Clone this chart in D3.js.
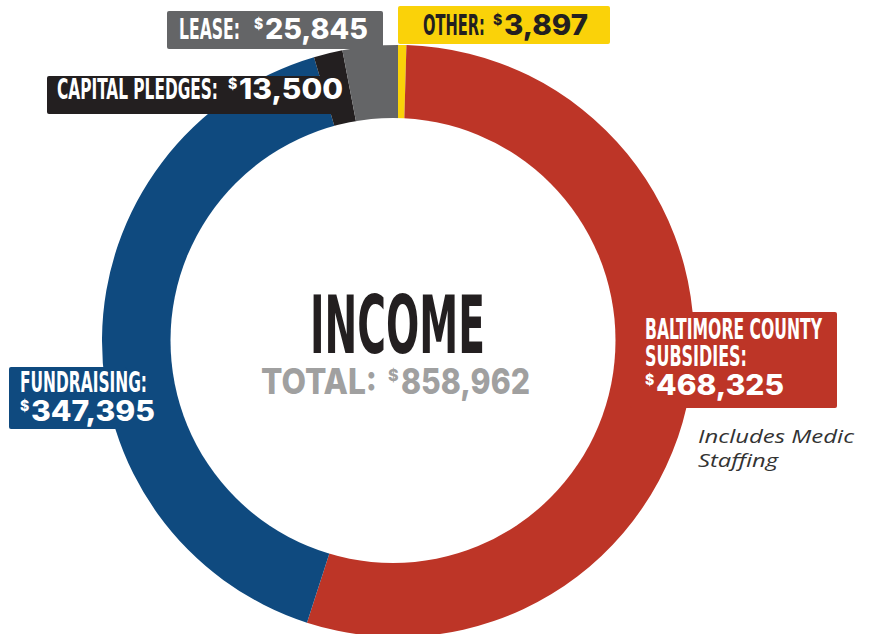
<!DOCTYPE html>
<html>
<head>
<meta charset="utf-8">
<script src="https://cdn.jsdelivr.net/npm/d3@7"></script>
<style>
  body { margin: 0; background: #fff; }
  svg { display: block; }
</style>
</head>
<body>
<div id="chart"></div>
<script>
// data, clockwise from 12 o'clock
var categories = ["OTHER", "BALTIMORE COUNTY SUBSIDIES", "FUNDRAISING", "CAPITAL PLEDGES", "LEASE"];
var values = [3897, 468325, 347395, 13500, 25845];
var colors = ["#FAD209", "#BD3527", "#0F4A7F", "#231F20", "#646567"];
var title = "INCOME";
var total_label = "TOTAL:";
var note_lines = ["Includes Medic", "Staffing"];

var width = 869;
var height = 634;
var cx = 398, cy = 341;

var fmt = d3.format(",");
var total = d3.sum(values);

var cond_font = "'Liberation Sans Narrow', 'DejaVu Sans Condensed', sans-serif";
var num_font = "Inter, 'Open Sans', sans-serif";

var svg = d3.select("#chart")
    .append("svg")
    .attr("width", width)
    .attr("height", height);

var pie = d3.pie()
    .sort(null)
    .value(function(d) { return d; });

var arc = d3.arc()
    .innerRadius(214)
    .outerRadius(296);

var ring = svg.append("g")
    .attr("transform", "translate(" + cx + "," + cy + ")");

ring.selectAll("path")
    .data(pie(values))
    .enter()
    .append("path")
    .attr("d", arc)
    .attr("fill", function(d, i) { return colors[i]; });

// the hole sits a few px left of the ring centre in the original
svg.append("circle")
    .attr("cx", 393)
    .attr("cy", 340.5)
    .attr("r", 222.5)
    .attr("fill", "#fff");

// label layout: box + text lines (label / number widths)
var layout = [
    { box: [398, 6, 212, 38], lines: [[423, 35, 62]], num: [493, 35, 95], text_fill: "#231F20", name: ["OTHER:"] },
    { box: [630, 312, 207, 96], lines: [[645, 339, 177], [645, 366, 102]], num: [645, 395, 139], text_fill: "#fff", name: ["BALTIMORE COUNTY", "SUBSIDIES:"] },
    { box: [9, 367, 118, 62], lines: [[20, 392, 127]], num: [20, 421, 135], text_fill: "#fff", name: ["FUNDRAISING:"] },
    { box: [47, 76, 290, 38], lines: [[57, 99, 161]], num: [228, 99, 115], text_fill: "#fff", name: ["CAPITAL PLEDGES:"] },
    { box: [167, 11, 216, 38], lines: [[179, 39, 61]], num: [254, 39, 114], text_fill: "#fff", name: ["LEASE:"] }
];

var labels = svg.append("g");

layout.forEach(function(l, i) {
    var g = labels.append("g");
    g.append("rect")
        .attr("x", l.box[0])
        .attr("y", l.box[1])
        .attr("width", l.box[2])
        .attr("height", l.box[3])
        .attr("rx", 2)
        .attr("fill", colors[i]);

    l.lines.forEach(function(p, j) {
        g.append("text")
            .text(l.name[j])
            .attr("x", p[0])
            .attr("y", p[1])
            .attr("textLength", p[2])
            .attr("lengthAdjust", "spacingAndGlyphs")
            .attr("font-family", cond_font)
            .attr("font-weight", "bold")
            .attr("font-size", 28)
            .attr("fill", l.text_fill);
    });

    // small raised dollar sign, then the amount
    g.append("text")
        .text("$")
        .attr("x", l.num[0])
        .attr("y", l.num[1] - 10)
        .attr("font-family", num_font)
        .attr("font-weight", 800)
        .attr("font-size", 14)
        .attr("fill", l.text_fill);

    g.append("text")
        .text(fmt(values[i]))
        .attr("x", l.num[0] + 11)
        .attr("y", l.num[1])
        .attr("textLength", l.num[2] - 11)
        .attr("lengthAdjust", "spacingAndGlyphs")
        .attr("font-family", num_font)
        .attr("font-weight", 800)
        .attr("font-size", 28)
        .attr("fill", l.text_fill);
});

// centre titles
svg.append("text")
    .text(title)
    .attr("x", 310)
    .attr("y", 353)
    .attr("textLength", 175)
    .attr("lengthAdjust", "spacingAndGlyphs")
    .attr("font-family", cond_font)
    .attr("font-weight", "bold")
    .attr("font-size", 81)
    .attr("fill", "#231F20");

svg.append("text")
    .text(total_label)
    .attr("x", 261)
    .attr("y", 394)
    .attr("textLength", 116)
    .attr("lengthAdjust", "spacingAndGlyphs")
    .attr("font-family", num_font)
    .attr("font-weight", 800)
    .attr("font-size", 35)
    .attr("fill", "#A0A0A0");

svg.append("text")
    .text("$")
    .attr("x", 388)
    .attr("y", 381)
    .attr("font-family", num_font)
    .attr("font-weight", 800)
    .attr("font-size", 16)
    .attr("fill", "#A0A0A0");

svg.append("text")
    .text(fmt(total))
    .attr("x", 401)
    .attr("y", 394)
    .attr("textLength", 129)
    .attr("lengthAdjust", "spacingAndGlyphs")
    .attr("font-family", num_font)
    .attr("font-weight", 800)
    .attr("font-size", 35)
    .attr("fill", "#A0A0A0");

// note under the county box
var note_widths = [156, 80];
svg.append("g").selectAll("text")
    .data(note_lines)
    .enter()
    .append("text")
    .text(function(d) { return d; })
    .attr("x", 698)
    .attr("y", function(d, i) { return 443 + i * 24; })
    .attr("textLength", function(d, i) { return note_widths[i]; })
    .attr("lengthAdjust", "spacingAndGlyphs")
    .attr("font-family", "'Open Sans', sans-serif")
    .attr("font-style", "italic")
    .attr("font-size", 19)
    .attr("fill", "#333");
</script>
</body>
</html>
